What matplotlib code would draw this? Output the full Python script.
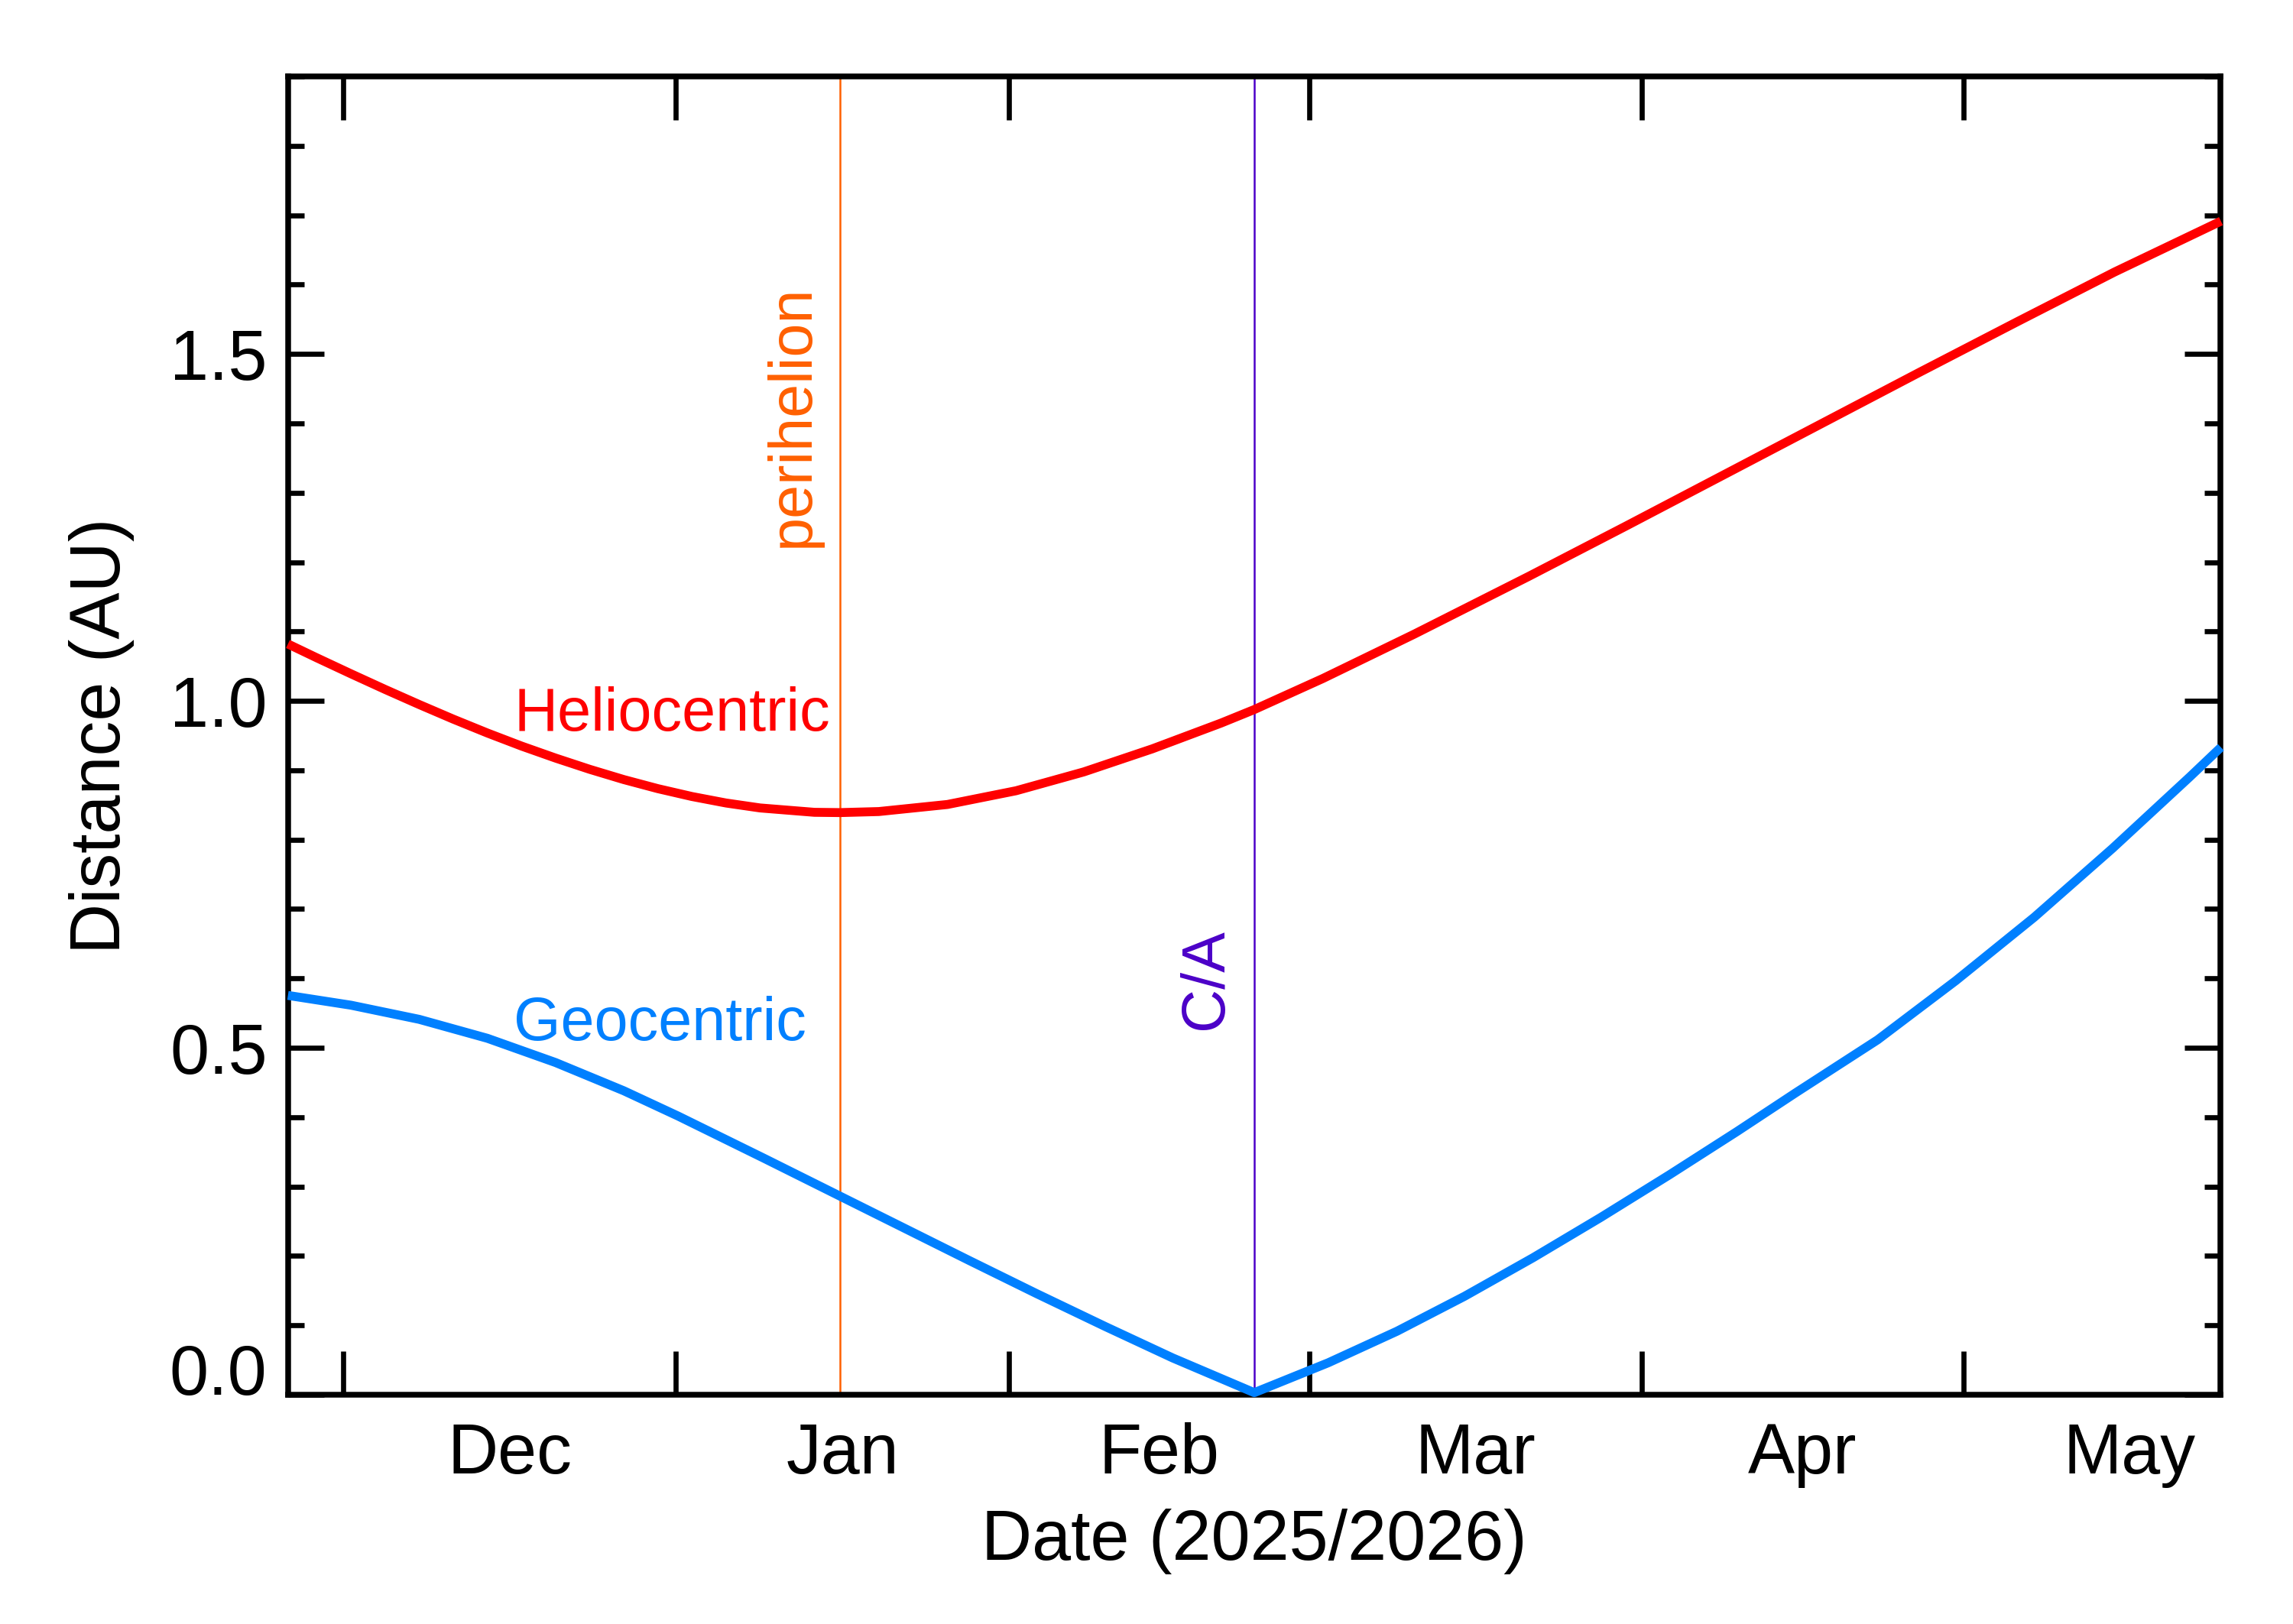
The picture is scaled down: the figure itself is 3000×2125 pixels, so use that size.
import matplotlib
matplotlib.use("Agg")
import matplotlib.pyplot as plt
import matplotlib.dates as mdates
from matplotlib.ticker import FixedLocator, MultipleLocator, NullFormatter, FixedFormatter
import numpy as np
from datetime import datetime

plt.rcParams['font.family'] = ['Liberation Sans', 'DejaVu Sans']

# ---------------- data ----------------
base_date = datetime(2025, 12, 1)

# days since 2025-12-01 and heliocentric distance (AU)
helio_days = [-5.17, -2.47, 0.71, 3.89, 7.07, 10.24, 13.42, 16.6, 19.77, 22.95,
              26.13, 29.31, 32.48, 35.67, 38.84, 43.9, 46.3, 49.9, 56.3, 62.7,
              69.0, 75.4, 81.8, 84.9, 91.3, 99.8, 110.5, 119.6, 128.7, 137.8,
              146.9, 156.0, 165.1, 175.0]
helio_au = [1.082, 1.062, 1.039, 1.0165, 0.9947, 0.9737, 0.9537, 0.9349, 0.9176, 0.9014,
            0.8866, 0.8735, 0.8622, 0.8528, 0.8457, 0.8394, 0.8390, 0.8405, 0.8507, 0.8705,
            0.8976, 0.9309, 0.9680, 0.9875, 1.0323, 1.0961, 1.1796, 1.2524, 1.3261, 1.3998,
            1.4735, 1.5463, 1.6182, 1.6914]

# days since 2025-12-01 and geocentric distance (AU)
geo_days = [-5.17, 0.71, 7.07, 13.42, 19.77, 26.13, 31.2, 39.2, 46.25, 51.9,
            58.3, 64.6, 71.0, 77.3, 84.9, 91.8, 98.2, 104.5, 110.9, 117.2,
            123.6, 129.9, 135.3, 143.0, 150.3, 157.6, 164.9, 172.1, 175.0]
geo_au = [0.5755, 0.5614, 0.5410, 0.5137, 0.4788, 0.4381, 0.4016, 0.3408, 0.2865, 0.2430,
          0.1937, 0.1458, 0.0984, 0.0530, 0.0030, 0.0461, 0.0915, 0.1419, 0.1976, 0.2556,
          0.3170, 0.3794, 0.4345, 0.5115, 0.5969, 0.6882, 0.7875, 0.8905, 0.9331]

perihelion_day = 46.32   # ~2026-01-16
ca_day = 84.9            # ~2026-02-24

x_range_days = [-5.15, 174.95]
y_range = [0.0, 1.9]

month_starts = ['2025-12-01', '2026-01-01', '2026-02-01', '2026-03-01',
                '2026-04-01', '2026-05-01', '2026-06-01']
month_labels = ['Dec', 'Jan', 'Feb', 'Mar', 'Apr', 'May']

# ---------------- helpers ----------------
b = mdates.date2num(base_date)
def dn(days):
    return b + np.asarray(days, dtype=float)

ms = [mdates.date2num(datetime.strptime(s, '%Y-%m-%d')) for s in month_starts]
mids = [(ms[i] + ms[i + 1]) / 2 for i in range(len(month_labels))]

# ---------------- figure ----------------
fig = plt.figure(figsize=(10, 2125 / 300), dpi=300)
L, R, T, B = 377, 2905, 100, 1825
ax = fig.add_axes([L / 3000, 1 - B / 2125, (R - L) / 3000, (B - T) / 2125])

red = '#FF0000'
blue = '#0080FF'
orange = '#FF6000'
purple = '#4B00C8'

ax.plot(dn(helio_days), helio_au, color=red, lw=2.8, solid_capstyle='butt',
        solid_joinstyle='round', clip_on=False, zorder=3)
ax.plot(dn(geo_days), geo_au, color=blue, lw=2.8, solid_capstyle='butt',
        solid_joinstyle='round', clip_on=False, zorder=3)

ax.axvline(dn(perihelion_day), color=orange, lw=0.6, zorder=2)
ax.axvline(dn(ca_day), color=purple, lw=0.6, zorder=2)

ax.set_xlim(dn(x_range_days[0]), dn(x_range_days[1]))
ax.set_ylim(*y_range)

# text labels
tfs = 19
ax.text(dn(15.9), 0.957, 'Heliocentric', color=red, fontsize=tfs, ha='left', va='baseline')
ax.text(dn(15.9), 0.511, 'Geocentric', color=blue, fontsize=tfs, ha='left', va='baseline')
ax.text(dn(44.6), 1.222, 'perihelion', color=orange, fontsize=tfs, rotation=90,
        ha='right', va='bottom')
ax.text(dn(83.1), 0.526, 'C/A', color=purple, fontsize=tfs, rotation=90,
        ha='right', va='bottom')

# spines
for s in ax.spines.values():
    s.set_linewidth(1.8)

# y ticks
ax.yaxis.set_major_locator(FixedLocator([0.0, 0.5, 1.0, 1.5]))
ax.yaxis.set_major_formatter(FixedFormatter(['0.0', '0.5', '1.0', '1.5']))
ax.yaxis.set_minor_locator(MultipleLocator(0.1))
ax.tick_params(axis='y', which='major', direction='in', length=11.3, width=1.6,
               left=True, right=True, labelsize=22, pad=6.6)
ax.tick_params(axis='y', which='minor', direction='in', length=5.0, width=1.6,
               left=True, right=True)

# x ticks: major at month starts (no labels), minor at mid-month (labels)
ax.xaxis.set_major_locator(FixedLocator(ms[:-1]))
ax.xaxis.set_major_formatter(NullFormatter())
ax.xaxis.set_minor_locator(FixedLocator(mids))
ax.xaxis.set_minor_formatter(FixedFormatter(month_labels))
ax.tick_params(axis='x', which='major', direction='in', length=13.7, width=1.6,
               bottom=True, top=True)
ax.tick_params(axis='x', which='minor', direction='in', length=0, width=0,
               bottom=True, top=False, labelsize=22, pad=8.6)

ax.set_xlabel('Date (2025/2026)', fontsize=22)
ax.set_ylabel('Distance (AU)', fontsize=22)
ax.xaxis.set_label_coords(0.5, (B - 1974) / (B - T))
ax.xaxis.label.set_va('top')
ax.yaxis.set_label_coords((176 - L) / (R - L), 0.5)

# first y label sits on the axis
fig.canvas.draw()
ax.yaxis.get_major_ticks()[0].label1.set_verticalalignment('baseline')

fig.savefig('out.png', dpi=300, facecolor='white')
